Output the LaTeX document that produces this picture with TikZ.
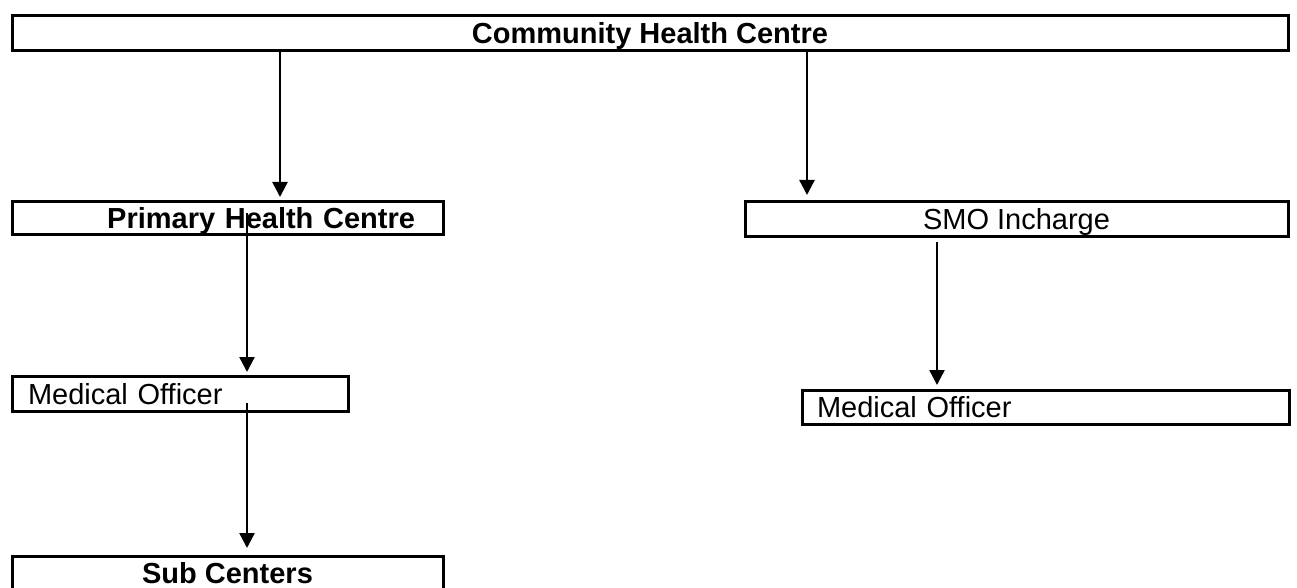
\documentclass[tikz,border=0pt]{standalone}
\usepackage{fontspec}
\setmainfont{Liberation Sans}
\usetikzlibrary{arrows.meta}
\begin{document}
\begin{tikzpicture}[x=1pt,y=-1pt,
  box/.style={draw, line width=3pt, inner ysep=0pt, outer sep=0pt,
    font=\fontsize{29}{34}\selectfont, text height=21pt, text depth=0pt},
  bbox/.style={box, font=\fontsize{29}{34}\selectfont\bfseries},
  arr/.style={line width=2.4pt, -{Triangle[width=15pt,length=15pt]}}]
\useasboundingbox (0,0) rectangle (1297,588);
\node[bbox, minimum width=1276pt, minimum height=35pt] (chc) at (650,33.5) {Community Health Centre};
\node[bbox, minimum height=33pt, inner xsep=28pt, text width=375pt, align=right] (phc) at (227.5,217.5) {Primary Health Centre};
\node[box, minimum width=543pt, minimum height=35pt] (smo) at (1016.5,218.5) {SMO Incharge};
\node[box, minimum height=35pt, inner xsep=16pt, text width=304pt, align=left] (mol) at (180,393.5) {Medical Officer};
\node[box, minimum height=34pt, inner xsep=15pt, text width=457pt, align=left] (mor) at (1045.5,407) {Medical Officer};
\node[bbox, minimum width=431pt, minimum height=34pt] (sub) at (227.5,573) {Sub Centers};
\coordinate (c1) at (280,0);
\coordinate (c2) at (807,0);
\coordinate (c3) at (247,0);
\coordinate (c5) at (937,0);
\draw[arr, shorten >=4pt] (chc.south -| c1) -- (phc.north -| c1);
\draw[arr, shorten >=6pt] (chc.south -| c2) -- (smo.north -| c2);
\draw[arr, shorten >=4pt] ([yshift=5pt]phc.center -| c3) -- (mol.north -| c3);
\draw[arr, shorten >=8pt] ([yshift=-9.5pt]mol.center -| c3) -- (sub.north -| c3);
\draw[arr, shorten >=5pt] ([yshift=-6pt]smo.south -| c5) -- (mor.north -| c5);
\end{tikzpicture}
\end{document}
